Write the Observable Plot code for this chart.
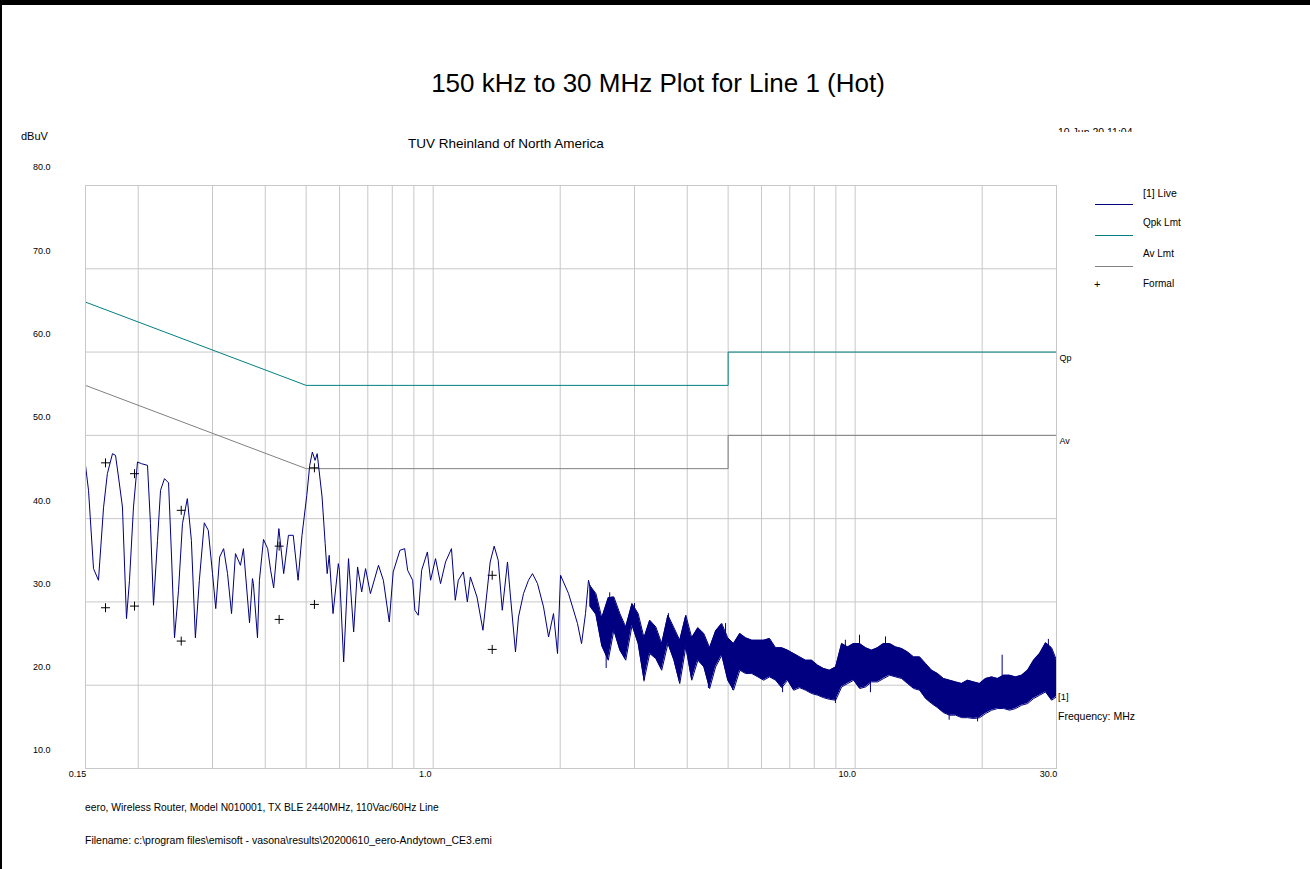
<!DOCTYPE html>
<html><head><meta charset="utf-8">
<script src="https://cdn.jsdelivr.net/npm/d3@7"></script>
<script src="https://cdn.jsdelivr.net/npm/@observablehq/plot@0.6"></script>
<style>
body{margin:0;background:#fff;font-family:Arial,"Liberation Sans",sans-serif;}
#page{position:relative;width:1310px;height:869px;overflow:hidden;background:#fff;}
.t{position:absolute;white-space:nowrap;color:#000;line-height:1;}
#chart{position:absolute;left:0;top:0;}
.lg{position:absolute;height:1px;width:38px;}
</style></head>
<body><div id="page">
<div id="chart"></div>
<div style="position:absolute;left:0;top:0;width:1310px;height:5px;background:#000"></div>
<div style="position:absolute;left:0;top:0;width:2px;height:869px;background:#000"></div>
<div class="t" style="left:3px;width:1310px;text-align:center;top:70px;font-size:26px">150 kHz to 30 MHz Plot for Line 1 (Hot)</div>
<div class="t" style="left:408px;top:137px;font-size:13.5px">TUV Rheinland of North America</div>
<div class="t" style="left:21px;top:131px;font-size:11px">dBuV</div>
<div style="position:absolute;left:1058px;top:126px;height:6px;overflow:hidden;width:120px">
  <span class="t" style="position:relative;top:-3.9px;font-size:10.5px">10 Jun 20 11:04 ..</span>
</div>
<div class="lg" style="left:1095px;top:204px;background:#000080"></div>
<div class="lg" style="left:1095px;top:235px;background:#008080"></div>
<div class="lg" style="left:1095px;top:266px;background:#808080"></div>
<div class="t" style="left:1094px;top:279px;font-size:11px">+</div>
<div class="t" style="left:1143px;top:188px;font-size:10.5px">[1] Live</div>
<div class="t" style="left:1143px;top:218px;font-size:10px">Qpk Lmt</div>
<div class="t" style="left:1143px;top:249px;font-size:10px">Av Lmt</div>
<div class="t" style="left:1143px;top:279px;font-size:10px">Formal</div>
<div class="t" style="left:1058px;top:692px;font-size:9.5px">[1]</div>
<div class="t" style="left:1058px;top:711px;font-size:10.5px">Frequency: MHz</div>
<div class="t" style="left:85px;top:803px;font-size:10.3px">eero, Wireless Router, Model N010001, TX BLE 2440MHz, 110Vac/60Hz Line</div>
<div class="t" style="left:85px;top:835px;font-size:10.5px">Filename: c:\program files\emisoft - vasona\results\20200610_eero-Andytown_CE3.emi</div>
</div>
<script>
// ---- data ----
const yTicks = [10, 20, 30, 40, 50, 60, 70, 80];
const xGridTicks = [0.15, 0.2, 0.3, 0.4, 0.5, 0.6, 0.7, 0.8, 0.9, 1, 2, 3, 4, 5, 6, 7, 8, 9, 10, 20, 30];
const xLabelTicks = [0.15, 1, 10, 30];
const xLabelText = ["0.15", "1.0", "10.0", "30.0"];

const qpkFreq = [0.15, 0.5, 5, 5, 30];
const qpkLevel = [66, 56, 56, 60, 60];
const avFreq = [0.15, 0.5, 5, 5, 30];
const avLevel = [56, 46, 46, 50, 50];

const liveFreq = [
  0.150,0.1525,0.1567,0.161,0.1655,0.169,0.1738,0.1767,0.1796,0.1835,
  0.1876,0.1907,0.1949,0.1992,0.2036,0.2104,0.2138,0.2174,0.2222,0.2259,
  0.2308,0.236,0.2399,0.2438,0.2492,0.2546,0.2615,0.2673,0.2732,0.2792,
  0.2868,0.2931,0.300,0.3053,0.3119,0.3187,0.3256,0.3328,0.340,0.3494,
  0.3551,0.3671,0.373,0.3749,0.3834,0.3875,0.3962,0.4053,0.4119,0.4188,
  0.4308,0.4423,0.454,0.466,0.4785,0.4888,0.5018,0.5098,0.5172,0.5249,
  0.5311,0.5454,0.5547,0.5608,0.567,0.579,0.596,0.5994,0.6136,0.630,
  0.648,0.662,0.677,0.6915,0.710,0.742,0.762,0.787,0.804,0.834,
  0.856,0.870,0.894,0.905,0.922,0.939,0.969,0.986,1.013,1.041,
  1.07,1.105,1.128,1.147,1.179,1.205,1.225,1.27,1.312,1.365,
  1.395,1.426,1.458,1.50,1.525,1.567,1.593,1.637,1.682,1.719,
  1.767,1.826,1.877,1.928,1.971,2.004,2.093,2.198,2.247,2.296,
  2.334,2.399
];
const liveLevel = [
  46.4,43.4,34.0,32.6,41.3,45.4,47.8,47.6,45.0,41.4,
  28.0,32.6,41.4,46.8,46.6,46.4,39.4,29.6,37.4,43.4,
  44.8,44.3,35.4,25.7,31.4,39.4,42.4,37.4,25.7,32.6,
  39.5,38.6,33.4,29.2,35.4,36.4,33.4,28.6,35.8,34.4,
  36.4,27.5,32.8,32.2,25.7,32.6,37.5,36.4,33.8,31.7,
  38.8,33.4,38.0,38.0,32.6,38.0,42.8,46.4,48.0,47.0,
  47.8,42.6,37.0,33.4,35.6,28.6,34.6,33.8,22.8,35.2,
  26.4,34.2,31.2,34.0,31.0,34.4,32.6,27.6,33.6,36.2,
  36.4,33.8,32.6,29.0,28.4,33.8,36.0,32.6,35.2,32.2,
  34.8,36.4,30.2,32.6,33.6,30.0,33.0,30.6,26.6,34.8,
  36.7,35.0,29.0,34.8,30.6,24.0,28.2,31.0,32.6,33.4,
  32.2,29.4,25.8,28.6,23.8,33.2,31.0,27.4,25.0,28.6,
  32.6,30.2
];

const bandFreq = [
  2.35,2.43,2.51,2.60,2.68,2.77,2.86,2.96,3.06,3.16,
  3.26,3.37,3.48,3.60,3.72,3.84,3.97,4.10,4.24,4.38,
  4.52,4.67,4.83,4.99,5.15,5.33,5.50,5.69,5.88,6.07,
  6.27,6.48,6.70,6.92,7.15,7.39,7.63,7.89,8.15,8.42,
  8.70,8.99,9.29,9.60,9.92,10.25,10.59,10.94,11.30,11.68,
  12.07,12.47,12.89,13.31,13.76,14.22,14.69,15.18,15.68,16.20,
  16.74,17.30,17.88,18.47,19.09,19.72,20.38,21.06,21.76,22.48,
  23.23,24.00,24.80,25.63,26.48,27.36,28.27,29.21,30.0
];
const bandHigh = [
  32.0,31.0,28.1,30.5,30.6,28.6,27.0,29.8,28.6,25.7,
  27.8,27.0,25.0,28.4,26.9,25.4,28.4,25.7,26.9,26.2,
  24.5,26.5,27.4,25.7,25.0,26.2,25.7,25.4,25.4,25.4,
  25.6,24.5,24.5,24.2,23.8,23.4,23.0,23.0,22.4,22.0,
  21.8,22.2,25.0,24.6,25.0,25.0,24.5,24.2,24.5,25.0,
  25.0,24.6,24.4,24.0,23.4,23.4,22.6,21.8,21.4,20.8,
  20.6,20.4,20.2,20.6,20.4,20.2,20.8,21.0,20.8,21.2,
  21.2,21.0,21.2,21.8,23.0,23.8,25.1,24.5,23.0
];
const bandLow = [
  29.5,28.5,24.7,23.0,26.6,24.2,23.0,27.2,25.0,20.6,
  23.8,23.2,21.8,25.0,23.0,20.2,24.6,20.6,23.0,22.2,
  19.6,22.2,23.6,20.6,19.4,21.8,21.4,21.4,21.0,20.6,
  21.0,20.6,19.7,20.6,19.4,19.7,19.4,19.0,18.8,18.5,
  18.3,18.2,19.8,20.2,20.6,19.6,19.8,20.4,20.4,20.8,
  21.2,21.0,20.8,20.2,19.6,19.4,18.4,17.8,17.3,16.7,
  16.4,16.4,16.1,16.1,16.0,16.1,16.6,17.0,17.2,17.2,
  17.0,17.2,17.6,17.8,18.4,18.8,19.2,18.2,18.6
];

// isolated noise spikes that stick out of the dense band
const spikeFreq = [2.57, 2.62, 3.0, 3.16, 3.61, 4.49, 4.93, 5.12, 6.73, 8.98, 9.48, 10.24, 10.87, 11.8, 16.7, 19.5, 22.3, 28.7];
const spikeFrom = [25.0, 28.0, 27.0, 23.0, 26.0, 22.0, 25.0, 21.0, 21.0, 19.5, 23.0, 23.0, 21.0, 23.0, 18.0, 18.0, 20.0, 23.0];
const spikeTo   = [22.0, 31.1, 29.8, 20.4, 28.6, 19.6, 27.4, 19.4, 19.1, 17.8, 25.4, 26.0, 19.1, 25.8, 15.8, 15.6, 23.6, 25.5];

const formalFreq = [0.1673, 0.196, 0.2529, 0.4315, 0.5231, 1.38];
const formalQp = [46.7, 45.4, 41.0, 36.7, 46.1, 33.2];
const formalAv = [29.3, 29.5, 25.3, 27.9, 29.7, 24.3];

// ---- tables built from the arrays ----
const qpk = qpkFreq.map((f, i) => ({f, v: qpkLevel[i]}));
const av = avFreq.map((f, i) => ({f, v: avLevel[i]}));
const live = liveFreq.map((f, i) => ({f, v: liveLevel[i]}));
const band = bandFreq.map((f, i) => ({f, hi: bandHigh[i], lo: bandLow[i]}));
const spikes = spikeFreq.map((f, i) => ({f, a: spikeFrom[i], b: spikeTo[i]}));
const formal = formalFreq.flatMap((f, i) => [{f, v: formalQp[i]}, {f, v: formalAv[i]}]);
const limitLabels = [
  {f: qpkFreq[qpkFreq.length - 1], v: qpkLevel[qpkLevel.length - 1], t: "Qp"},
  {f: avFreq[avFreq.length - 1], v: avLevel[avLevel.length - 1], t: "Av"}
];

const NAVY = "#000080", TEAL = "#008080", GRAY = "#808080", GRID = "#c8c8c8";

const chart = Plot.plot({
  width: 1310,
  height: 869,
  marginTop: 185,
  marginRight: 254,
  marginBottom: 101,
  marginLeft: 85,
  x: {type: "log", domain: [0.15, 30]},
  y: {domain: [10, 80]},
  style: {fontFamily: "Arial, 'Liberation Sans', sans-serif", fontSize: "9px", background: "transparent", overflow: "visible"},
  marks: [
    Plot.gridX(xGridTicks, {stroke: GRID, strokeOpacity: 1}),
    Plot.gridY(yTicks, {stroke: GRID, strokeOpacity: 1}),
    Plot.axisY(yTicks, {tickSize: 0, tickPadding: 0, dx: -35, dy: -18, tickFormat: d => d.toFixed(1), label: null, fontSize: 9}),
    Plot.axisX(xLabelTicks, {tickSize: 0, tickPadding: 2, dx: -8, tickFormat: d => xLabelText[xLabelTicks.indexOf(d)], label: null, fontSize: 9}),
    Plot.line(qpk, {x: "f", y: "v", stroke: TEAL, strokeWidth: 1}),
    Plot.line(av, {x: "f", y: "v", stroke: GRAY, strokeWidth: 1}),
    Plot.areaY(band, {x: "f", y1: "lo", y2: "hi", fill: NAVY}),
    Plot.line(band, {x: "f", y: "hi", stroke: NAVY, strokeWidth: 1}),
    Plot.line(band, {x: "f", y: "lo", stroke: NAVY, strokeWidth: 1}),
    Plot.ruleX(spikes, {x: "f", y1: "a", y2: "b", stroke: NAVY, strokeWidth: 1}),
    Plot.line(live, {x: "f", y: "v", stroke: NAVY, strokeWidth: 1}),
    Plot.dot(formal, {x: "f", y: "v", symbol: "plus", r: 3, stroke: "#000", strokeWidth: 1}),
    Plot.frame({stroke: GRID}),
    Plot.text(limitLabels, {x: "f", y: "v", text: "t", textAnchor: "start", dx: 3, dy: 6, fontSize: 9, fill: "#000"})
  ]
});
document.getElementById("chart").appendChild(chart);
</script>
</body></html>
